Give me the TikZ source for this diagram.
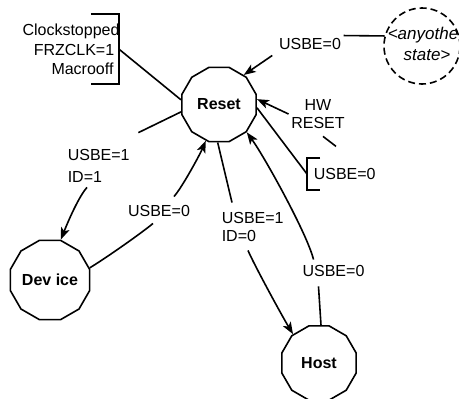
\documentclass[tikz,border=0pt]{standalone}
\usepackage{fontspec}
\setmainfont{Liberation Sans}
\usetikzlibrary{shapes.geometric,arrows.meta}
\begin{document}
\begin{tikzpicture}[x=1pt,y=-1pt,
  line width=1.6pt,
  state/.style={draw, regular polygon, regular polygon sides=12, minimum size=77pt, inner sep=0pt, font=\fontsize{16}{19}\selectfont\bfseries},
  lbl/.style={inner sep=2pt, font=\fontsize{16}{19}\selectfont},
  itl/.style={inner sep=0pt, font=\fontsize{17}{19}\selectfont\itshape},
  arr/.style={-{Stealth[length=12pt,width=9pt,inset=3pt]}},
]
\useasboundingbox (0,0) rectangle (459,399);

% states
\node[state] (reset) at (219,104.5) {Reset};
\node[state] (device) at (50,280) {Dev ice};
\node[state] (host) at (319,363) {Host};
\node[draw, circle, dash pattern=on 7pt off 4pt, minimum size=76pt, inner sep=0pt] (any) at (422,46) {};
\node[itl, anchor=west] (anyt1) at (387,35) {<anyothe};
\node[itl] (anyt2) at (427,55) {state>};

% clock stopped block
\node[lbl, inner sep=0pt] (clk1) at (71,31) {Clockstopped};
\node[lbl, inner sep=0pt] (clk2) at (74,50) {FRZCLK=1};
\node[lbl, inner sep=0pt] (clk3) at (82.5,69) {Macrooff};
\node[minimum width=28pt, minimum height=68pt, inner sep=0pt] (brk1) at (104,49) {};
\draw ([shift={(-28,0)}]brk1.north east) -- (brk1.north east) -- (brk1.south east) -- ([shift={(-28,0)}]brk1.south east);
\draw (brk1.east) -- (reset.173);

% any other state
\node[lbl] (lblAny) at (310,44) {USBE=0};
\draw (any.165) -- (lblAny.north east);
\draw[arr] ([shift={(-4,3)}]lblAny.south west) -- (reset.50);

% HW reset
\node[lbl, align=center, font=\fontsize{16}{18}\selectfont] (hw) at (318,114) {HW\\RESET};
\draw[arr] (hw.west) -- (reset.8);
\draw ([shift={(5,5)}]hw.south) -- ++(13,10);

% USBE=0 bracket
\node[lbl, anchor=west, inner xsep=6pt, minimum height=30pt] (brk2) at (307,174) {USBE=0};
\draw ([shift={(13,0)}]brk2.north west) -- (brk2.north west) -- (brk2.south west) -- ([shift={(13,0)}]brk2.south west);
\draw (brk2.west) -- (reset.-5);

% Reset -> Device
\node[lbl, align=left, anchor=west, font=\fontsize{16}{22}\selectfont] (lblRD) at (65,166) {USBE=1\\ID=1};
\draw (reset.191) -- ([shift={(6,-14)}]lblRD.north east);
\draw[arr] ([shift={(22,2)}]lblRD.south west) .. controls +(-8,9) and +(8,-20) .. (device.75);

% Device -> Reset
\node[lbl] (lblDR) at (159,211) {USBE=0};
\draw (device.17) .. controls +(15,-9) and +(-12,10) .. ([shift={(-6,4)}]lblDR.south);
\draw[arr] ([shift={(15,-6)}]lblDR.north) .. controls +(8,-9) and +(-6,14) .. (reset.250);

% Reset -> Host
\node[lbl, align=left, anchor=west, font=\fontsize{16}{18}\selectfont] (lblRH) at (219,227) {USBE=1\\ID=0};
\draw (reset.268) -- ([shift={(13,-7)}]lblRH.north west);
\draw[arr] ([shift={(29,6)}]lblRH.south west) .. controls +(6,14) and +(-12,-20) .. (host.132);

% Host -> Reset
\node[lbl] (lblHR) at (333.5,271) {USBE=0};
\draw (host.87) -- ([shift={(-15,7)}]lblHR.south);
\draw[arr] ([shift={(-20,-3)}]lblHR.north) .. controls +(-6,-25) and +(18,25) .. (reset.-45);
\end{tikzpicture}
\end{document}
